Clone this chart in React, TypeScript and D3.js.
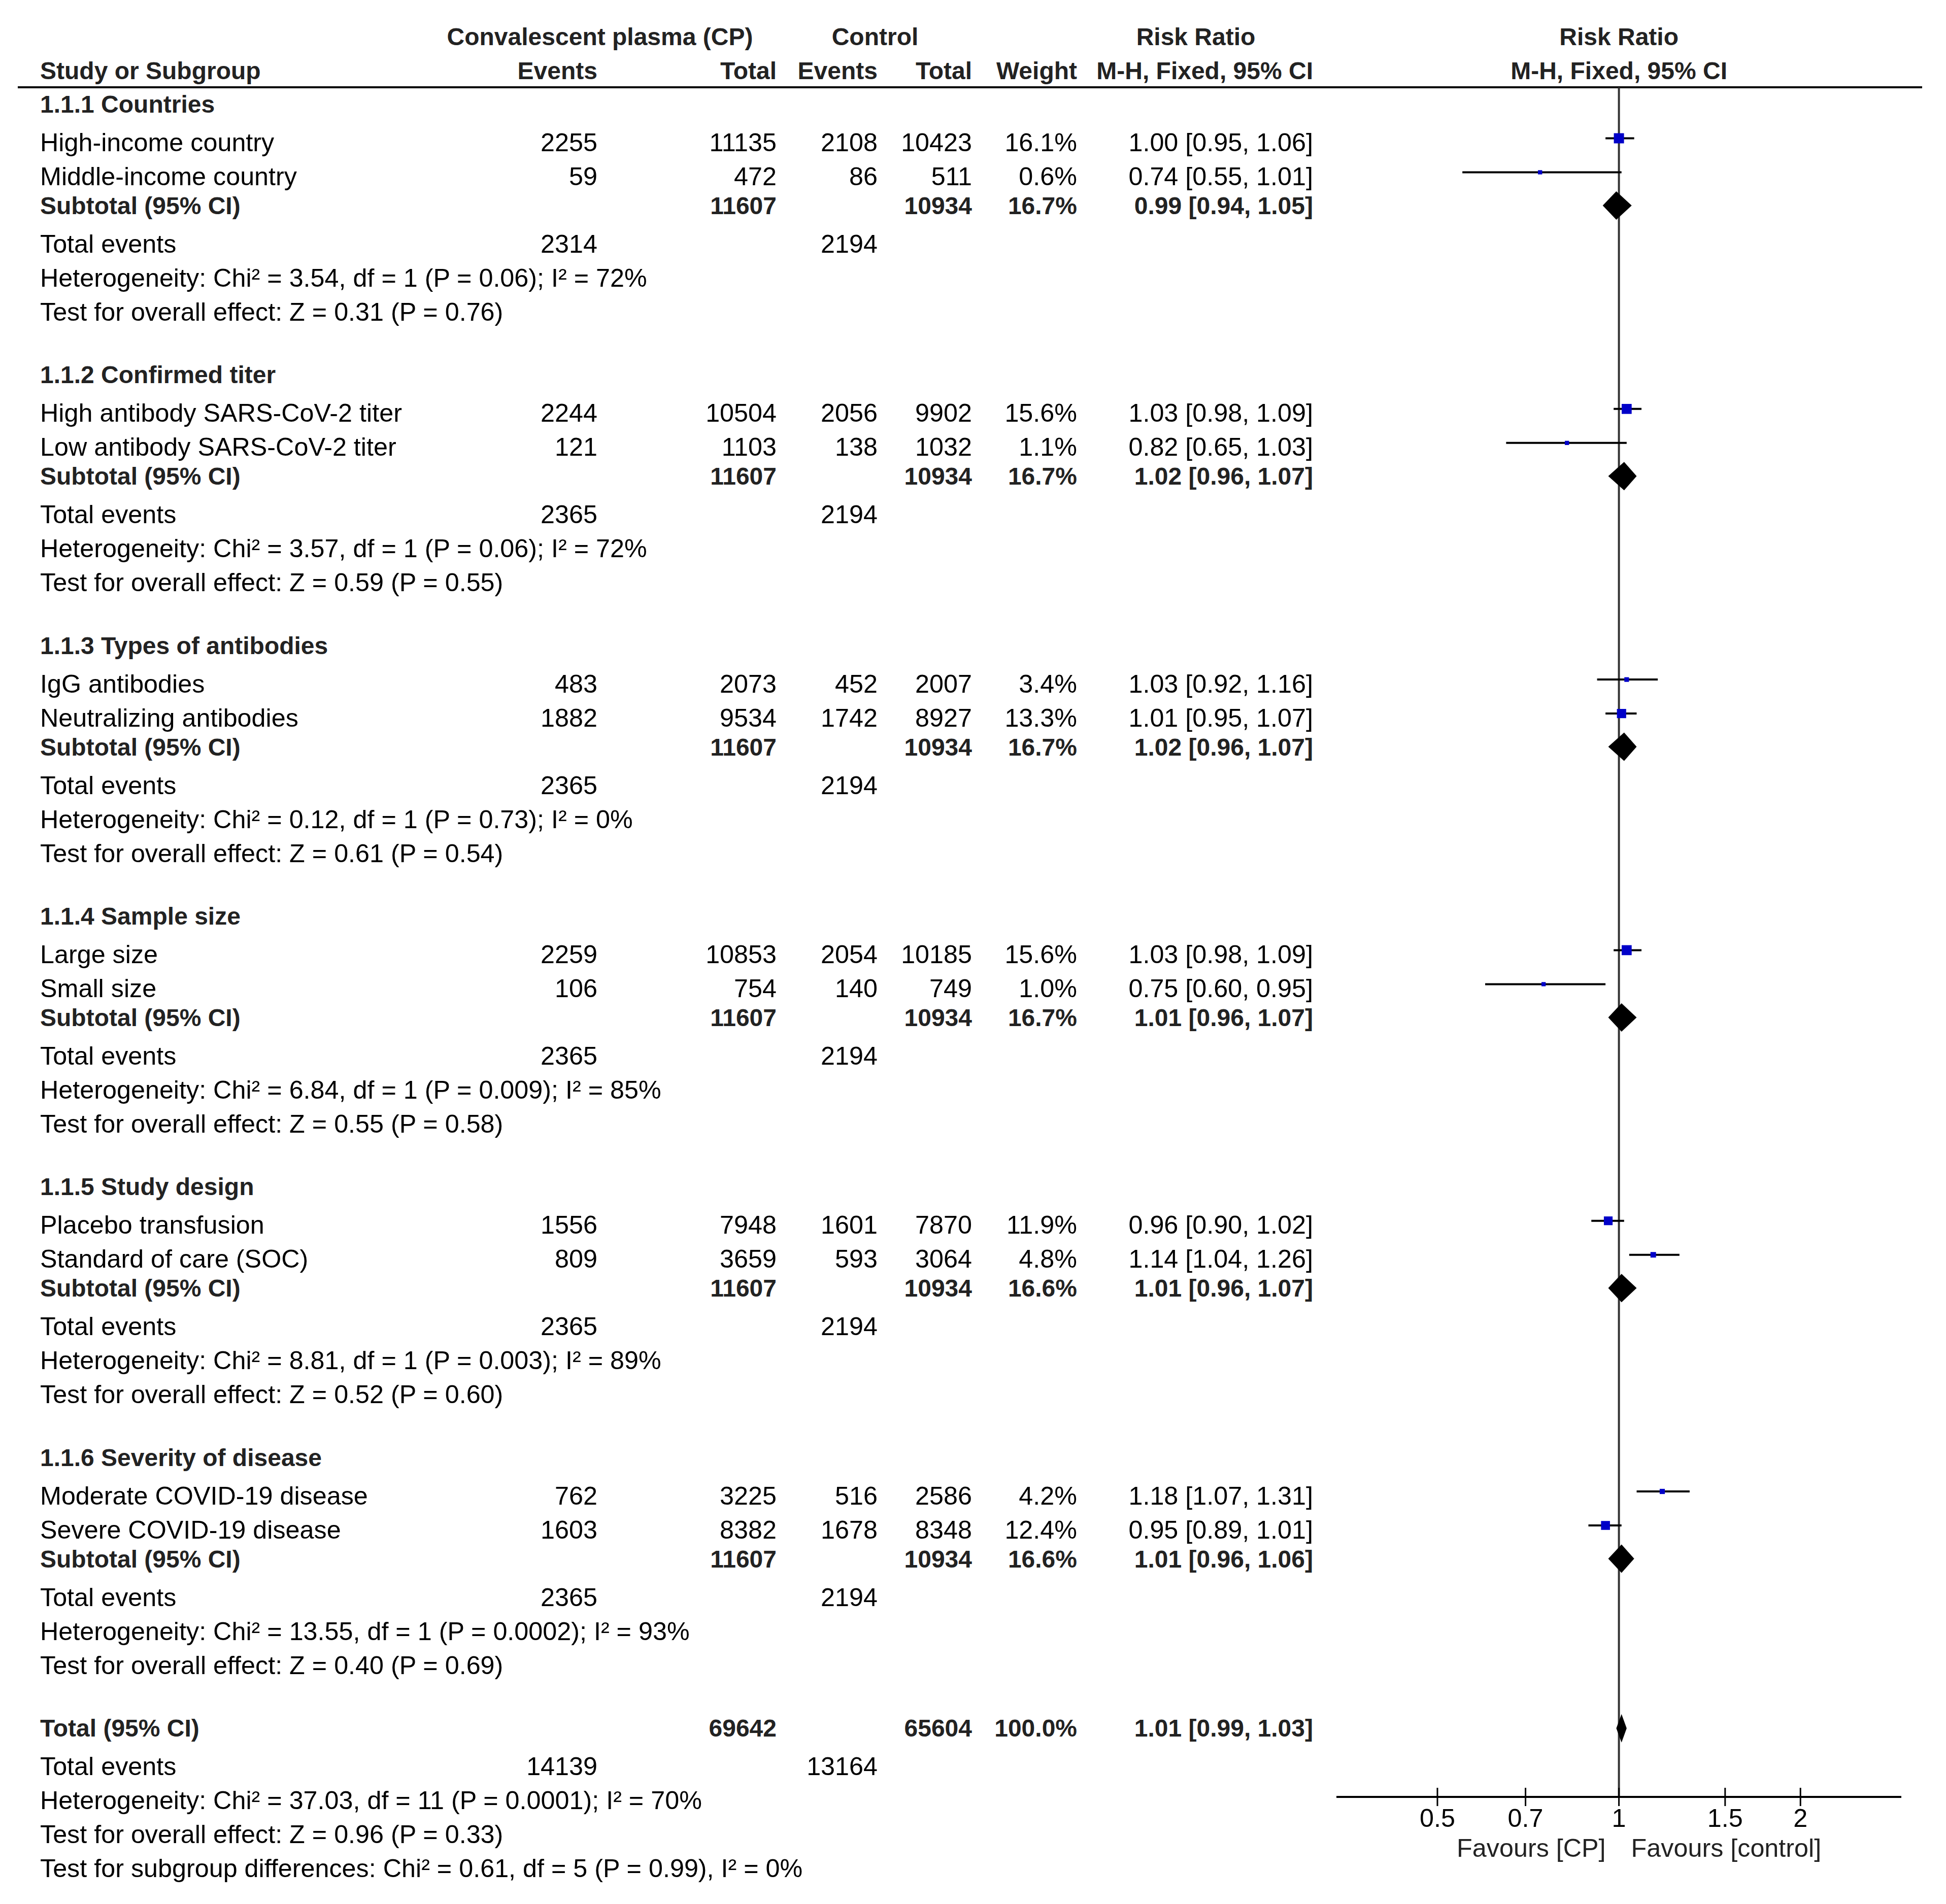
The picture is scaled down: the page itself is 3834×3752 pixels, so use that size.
import React from "react";
import * as d3 from "d3";

// ---------- data ----------
const subgroupTitles = [
  "1.1.1 Countries",
  "1.1.2 Confirmed titer",
  "1.1.3 Types of antibodies",
  "1.1.4 Sample size",
  "1.1.5 Study design",
  "1.1.6 Severity of disease",
];

const studyNames = [
  ["High-income country", "Middle-income country"],
  ["High antibody SARS-CoV-2 titer", "Low antibody SARS-CoV-2 titer"],
  ["IgG antibodies", "Neutralizing antibodies"],
  ["Large size", "Small size"],
  ["Placebo transfusion", "Standard of care (SOC)"],
  ["Moderate COVID-19 disease", "Severe COVID-19 disease"],
];
const cpEvents = [[2255, 59], [2244, 121], [483, 1882], [2259, 106], [1556, 809], [762, 1603]];
const cpTotals = [[11135, 472], [10504, 1103], [2073, 9534], [10853, 754], [7948, 3659], [3225, 8382]];
const ctlEvents = [[2108, 86], [2056, 138], [452, 1742], [2054, 140], [1601, 593], [516, 1678]];
const ctlTotals = [[10423, 511], [9902, 1032], [2007, 8927], [10185, 749], [7870, 3064], [2586, 8348]];
const studyWeights = [[16.1, 0.6], [15.6, 1.1], [3.4, 13.3], [15.6, 1.0], [11.9, 4.8], [4.2, 12.4]];
const studyRR = [[1.0, 0.74], [1.03, 0.82], [1.03, 1.01], [1.03, 0.75], [0.96, 1.14], [1.18, 0.95]];
const studyLo = [[0.95, 0.55], [0.98, 0.65], [0.92, 0.95], [0.98, 0.6], [0.9, 1.04], [1.07, 0.89]];
const studyHi = [[1.06, 1.01], [1.09, 1.03], [1.16, 1.07], [1.09, 0.95], [1.02, 1.26], [1.31, 1.01]];

const subCpTotal = [11607, 11607, 11607, 11607, 11607, 11607];
const subCtlTotal = [10934, 10934, 10934, 10934, 10934, 10934];
const subWeight = [16.7, 16.7, 16.7, 16.7, 16.6, 16.6];
const subRR = [0.99, 1.02, 1.02, 1.01, 1.01, 1.01];
const subLo = [0.94, 0.96, 0.96, 0.96, 0.96, 0.96];
const subHi = [1.05, 1.07, 1.07, 1.07, 1.07, 1.06];
const subCpEvents = [2314, 2365, 2365, 2365, 2365, 2365];
const subCtlEvents = [2194, 2194, 2194, 2194, 2194, 2194];
const subHet = [
  "Heterogeneity: Chi² = 3.54, df = 1 (P = 0.06); I² = 72%",
  "Heterogeneity: Chi² = 3.57, df = 1 (P = 0.06); I² = 72%",
  "Heterogeneity: Chi² = 0.12, df = 1 (P = 0.73); I² = 0%",
  "Heterogeneity: Chi² = 6.84, df = 1 (P = 0.009); I² = 85%",
  "Heterogeneity: Chi² = 8.81, df = 1 (P = 0.003); I² = 89%",
  "Heterogeneity: Chi² = 13.55, df = 1 (P = 0.0002); I² = 93%",
];
const subTest = [
  "Test for overall effect: Z = 0.31 (P = 0.76)",
  "Test for overall effect: Z = 0.59 (P = 0.55)",
  "Test for overall effect: Z = 0.61 (P = 0.54)",
  "Test for overall effect: Z = 0.55 (P = 0.58)",
  "Test for overall effect: Z = 0.52 (P = 0.60)",
  "Test for overall effect: Z = 0.40 (P = 0.69)",
];

const totalCpTotal = 69642;
const totalCtlTotal = 65604;
const totalWeight = 100.0;
const totalRR = 1.01;
const totalLo = 0.99;
const totalHi = 1.03;
const totalCpEvents = 14139;
const totalCtlEvents = 13164;
const totalFootnotes = [
  "Heterogeneity: Chi² = 37.03, df = 11 (P = 0.0001); I² = 70%",
  "Test for overall effect: Z = 0.96 (P = 0.33)",
  "Test for subgroup differences: Chi² = 0.61, df = 5 (P = 0.99), I² = 0%",
];

const axisTicks = [0.5, 0.7, 1, 1.5, 2];
const axisTickLabels = ["0.5", "0.7", "1", "1.5", "2"];
const axisDomain = [0.34, 2.94];

// ---------- layout ----------
const W = 3834;
const H = 3752;
const FONT = "'Liberation Sans', Arial, Helvetica, sans-serif";
const FS = 50.3;
const FS_BOLD = 48;
const COL = { name: 79, cpEv: 1177, cpTot: 1530, ctEv: 1729, ctTot: 1915, wt: 2122, ci: 2587 };
const HEADER_LINE_Y = 172;
const AXIS_Y = 3541;

const x = d3.scaleLog().domain(axisDomain).range([2633, 3746]);
const groupY = d3.scaleLinear().domain([0, 6]).range([222, 222 + 6 * 533.3]);
const boxSize = d3.scaleSqrt().domain([0, 16.1]).range([0, 20]);

const OFF = { study: [76, 143], sub: 200, events: 276, het: 343, test: 410 };

const fmtCI = (r: number, l: number, h: number) =>
  `${r.toFixed(2)} [${l.toFixed(2)}, ${h.toFixed(2)}]`;
const fmtW = (w: number) => `${w.toFixed(1)}%`;

function T(props: any) {
  const { x, y, children, anchor = "start", bold = false } = props;
  return (
    <text
      x={x}
      y={y}
      textAnchor={anchor}
      fontWeight={bold ? "bold" : "normal"}
      fontSize={bold ? FS_BOLD : FS}
      fill={bold ? "#222" : "#000"}
    >
      {children}
    </text>
  );
}

function Diamond({ rr, lo, hi, cy }: any) {
  const hh = 28;
  const d = `M${x(lo)},${cy} L${x(rr)},${cy - hh} L${x(hi)},${cy} L${x(rr)},${cy + hh} Z`;
  return <path d={d} fill="#000" />;
}

export default function App() {
  const x1 = x(1);
  const rows: any[] = [];
  const marks: any[] = [];

  subgroupTitles.forEach((title, g) => {
    const base = groupY(g);
    rows.push(<T key={`h${g}`} x={COL.name} y={base} bold>{title}</T>);
    studyNames[g].forEach((name, i) => {
      const y = base + OFF.study[i];
      rows.push(
        <g key={`s${g}-${i}`}>
          <T x={COL.name} y={y}>{name}</T>
          <T x={COL.cpEv} y={y} anchor="end">{cpEvents[g][i]}</T>
          <T x={COL.cpTot} y={y} anchor="end">{cpTotals[g][i]}</T>
          <T x={COL.ctEv} y={y} anchor="end">{ctlEvents[g][i]}</T>
          <T x={COL.ctTot} y={y} anchor="end">{ctlTotals[g][i]}</T>
          <T x={COL.wt} y={y} anchor="end">{fmtW(studyWeights[g][i])}</T>
          <T x={COL.ci} y={y} anchor="end">{fmtCI(studyRR[g][i], studyLo[g][i], studyHi[g][i])}</T>
        </g>
      );
      const cy = y - 25.5;
      const s = Math.max(8.3, boxSize(studyWeights[g][i]));
      marks.push(
        <g key={`m${g}-${i}`}>
          <line x1={x(studyLo[g][i])} x2={x(studyHi[g][i])} y1={cy} y2={cy} stroke="#000" strokeWidth={4} />
          <rect x={x(studyRR[g][i]) - s / 2} y={cy - s / 2} width={s} height={s} fill="#0000c8" />
        </g>
      );
    });
    const ys = base + OFF.sub;
    rows.push(
      <g key={`sub${g}`}>
        <T x={COL.name} y={ys} bold>Subtotal (95% CI)</T>
        <T x={COL.cpTot} y={ys} anchor="end" bold>{subCpTotal[g]}</T>
        <T x={COL.ctTot} y={ys} anchor="end" bold>{subCtlTotal[g]}</T>
        <T x={COL.wt} y={ys} anchor="end" bold>{fmtW(subWeight[g])}</T>
        <T x={COL.ci} y={ys} anchor="end" bold>{fmtCI(subRR[g], subLo[g], subHi[g])}</T>
        <T x={COL.name} y={base + OFF.events}>Total events</T>
        <T x={COL.cpEv} y={base + OFF.events} anchor="end">{subCpEvents[g]}</T>
        <T x={COL.ctEv} y={base + OFF.events} anchor="end">{subCtlEvents[g]}</T>
        <T x={COL.name} y={base + OFF.het}>{subHet[g]}</T>
        <T x={COL.name} y={base + OFF.test}>{subTest[g]}</T>
      </g>
    );
    marks.push(<Diamond key={`d${g}`} rr={subRR[g]} lo={subLo[g]} hi={subHi[g]} cy={ys - 17} />);
  });

  const tb = groupY(6);
  rows.push(
    <g key="total">
      <T x={COL.name} y={tb} bold>Total (95% CI)</T>
      <T x={COL.cpTot} y={tb} anchor="end" bold>{totalCpTotal}</T>
      <T x={COL.ctTot} y={tb} anchor="end" bold>{totalCtlTotal}</T>
      <T x={COL.wt} y={tb} anchor="end" bold>{fmtW(totalWeight)}</T>
      <T x={COL.ci} y={tb} anchor="end" bold>{fmtCI(totalRR, totalLo, totalHi)}</T>
      <T x={COL.name} y={tb + 76}>Total events</T>
      <T x={COL.cpEv} y={tb + 76} anchor="end">{totalCpEvents}</T>
      <T x={COL.ctEv} y={tb + 76} anchor="end">{totalCtlEvents}</T>
      {totalFootnotes.map((t, i) => (
        <T key={i} x={COL.name} y={tb + 143 + i * 67}>{t}</T>
      ))}
    </g>
  );
  marks.push(<Diamond key="dtot" rr={totalRR} lo={totalLo} hi={totalHi} cy={tb - 16} />);

  return (
    <svg
      width={W}
      height={H}
      viewBox={`0 0 ${W} ${H}`}
      style={{ position: "absolute", left: 0, top: 0, display: "block", background: "#fff" }}
      fontFamily={FONT}
      fontSize={FS}
    >
      <rect x={0} y={0} width={W} height={H} fill="#fff" />
      {/* header */}
      <T x={1182} y={89} anchor="middle" bold>Convalescent plasma (CP)</T>
      <T x={1724} y={89} anchor="middle" bold>Control</T>
      <T x={2356} y={89} anchor="middle" bold>Risk Ratio</T>
      <T x={x1} y={89} anchor="middle" bold>Risk Ratio</T>
      <T x={COL.name} y={156} bold>Study or Subgroup</T>
      <T x={COL.cpEv} y={156} anchor="end" bold>Events</T>
      <T x={COL.cpTot} y={156} anchor="end" bold>Total</T>
      <T x={COL.ctEv} y={156} anchor="end" bold>Events</T>
      <T x={COL.ctTot} y={156} anchor="end" bold>Total</T>
      <T x={COL.wt} y={156} anchor="end" bold>Weight</T>
      <T x={COL.ci} y={156} anchor="end" bold>M-H, Fixed, 95% CI</T>
      <T x={x1} y={156} anchor="middle" bold>M-H, Fixed, 95% CI</T>
      <line x1={35} x2={3787} y1={HEADER_LINE_Y} y2={HEADER_LINE_Y} stroke="#000" strokeWidth={4} />

      {/* null line */}
      <line x1={x1} x2={x1} y1={HEADER_LINE_Y} y2={AXIS_Y} stroke="#333" strokeWidth={4} />

      {rows}
      {marks}

      {/* axis */}
      <line x1={x.range()[0]} x2={x.range()[1]} y1={AXIS_Y} y2={AXIS_Y} stroke="#000" strokeWidth={4} />
      {axisTicks.map((t, i) => (
        <g key={`t${i}`}>
          <line x1={x(t)} x2={x(t)} y1={AXIS_Y - 18} y2={AXIS_Y + 18} stroke="#000" strokeWidth={3} />
          <text x={x(t)} y={3600} textAnchor="middle" fill="#000">{axisTickLabels[i]}</text>
        </g>
      ))}
      <text x={x1 - 26} y={3659} textAnchor="end" fill="#222">Favours [CP]</text>
      <text x={x1 + 24} y={3659} textAnchor="start" fill="#222">Favours [control]</text>
    </svg>
  );
}
